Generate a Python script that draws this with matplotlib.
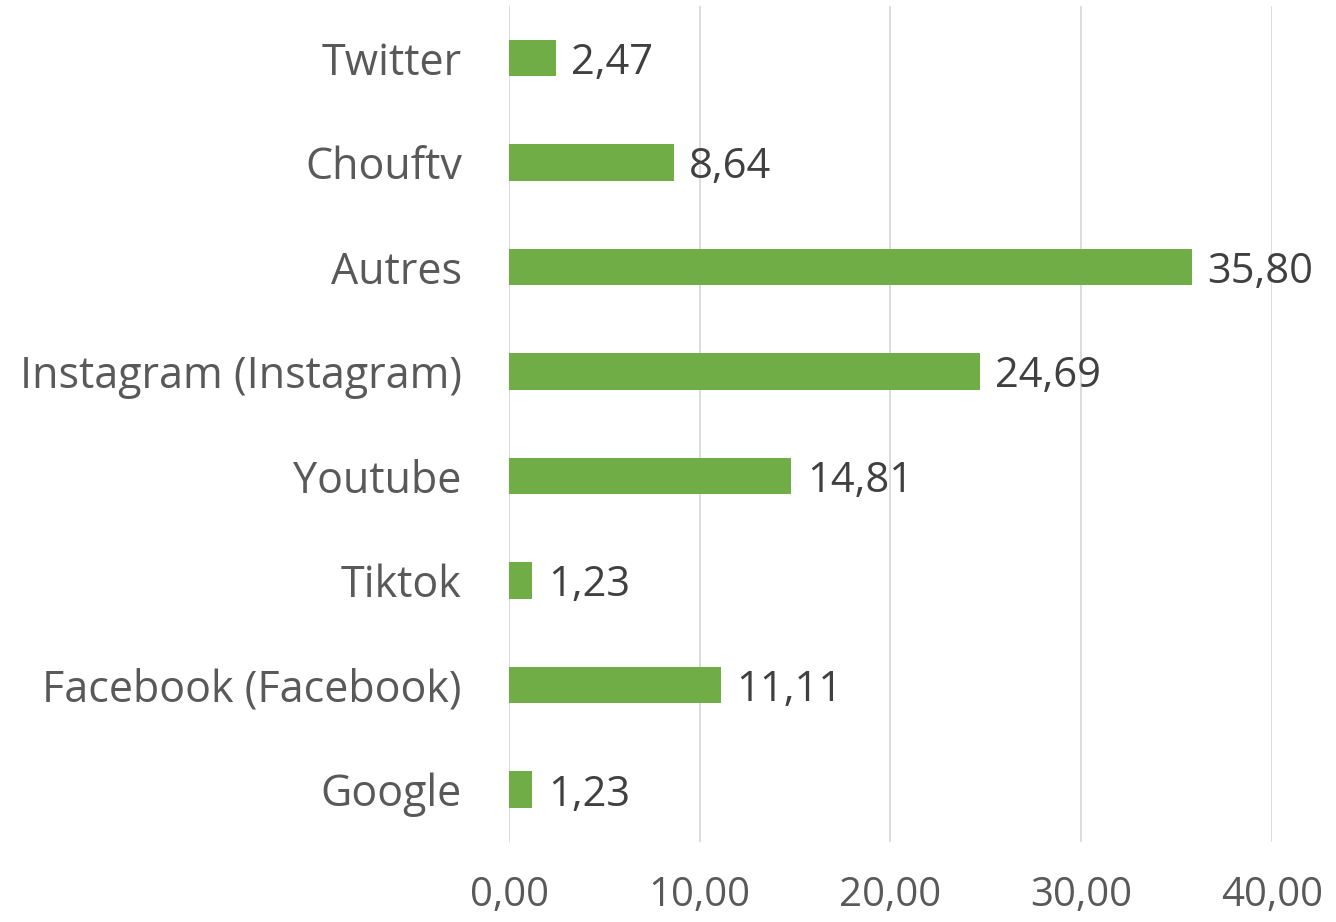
import numpy as np
import matplotlib
matplotlib.use('Agg')
import matplotlib.pyplot as plt

# Daten
categories = ['Google', 'Facebook (Facebook)', 'Tiktok', 'Youtube',
              'Instagram (Instagram)', 'Autres', 'Chouftv', 'Twitter']
values = [1.23, 11.11, 1.23, 14.81, 24.69, 35.80, 8.64, 2.47]
xticks = [0, 10, 20, 30, 40]

green = '#70AD47'
grey = '#595959'
dark = '#404040'

plt.rcParams['font.family'] = ['Open Sans', 'DejaVu Sans']

fig = plt.figure(figsize=(13.36, 9.22), dpi=100)
ax = fig.add_axes([0.381, 0.087, 0.571, 0.907])

y = np.arange(len(categories))
ax.barh(y, values, height=0.35, color=green, zorder=3)

for yi, v in zip(y, values):
    ax.text(v + 0.8, yi, f'{v:.2f}'.replace('.', ','), va='center_baseline', ha='left',
            fontsize=30, color=dark, clip_on=False)

ax.set_xlim(0, 40)
ax.set_ylim(-0.5, len(categories) - 0.5)
ax.set_yticks(y)
ax.set_yticklabels(categories, fontsize=31, color=grey, va='center_baseline')
ax.set_xticks(xticks)
ax.set_xticklabels([f'{t:.2f}'.replace('.', ',') for t in xticks], fontsize=29, color=grey)
ax.tick_params(axis='both', length=0)
ax.tick_params(axis='x', pad=24)
ax.tick_params(axis='y', pad=34)

ax.grid(axis='x', color='#D9D9D9', linewidth=1.3, zorder=0)
for s in ax.spines.values():
    s.set_visible(False)

fig.savefig('out.png', dpi=100, facecolor='white')
plt.close(fig)
